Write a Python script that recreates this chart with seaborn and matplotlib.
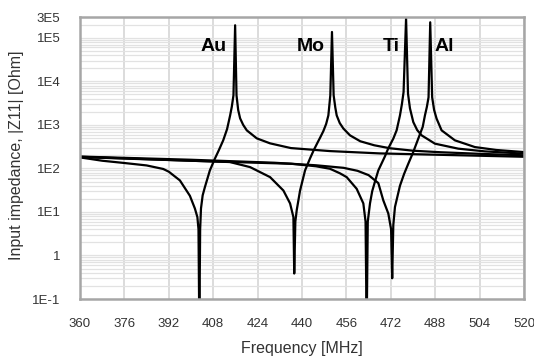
import numpy as np
import pandas as pd
import matplotlib
matplotlib.use("Agg")
import matplotlib.pyplot as plt
import seaborn as sns
from matplotlib.ticker import FixedLocator, FixedFormatter, LogLocator, NullFormatter

sns.set_theme(style="white")
plt.rcParams["font.family"] = ["Liberation Sans", "DejaVu Sans"]

# ---- data (frequency in MHz, |Z11| in Ohm) ----
au_f = [360, 368, 376, 384, 390, 392, 396, 399.6, 401.4, 402.3, 402.7, 403.0, 403.3, 403.6,
        404.2, 405.0, 406.8, 408.6, 410.0, 411.6, 413.0, 414.1, 414.7, 415.3, 415.9, 416.4,
        417.0, 417.7, 418.8, 420.1, 423.7, 428.5, 436, 450, 468, 490, 520]
au_z = [179, 150, 133, 117, 97, 84, 53, 23.5, 12, 7.6, 4, 0.02, 4, 12,
        24, 37, 90, 167, 259, 440, 800, 1650, 2600, 4770, 1.94e5, 4770,
        2200, 1410, 1000, 748, 490, 376, 293, 250, 221, 205, 185]

mo_f = [360, 380, 400, 414, 421.3, 428.5, 433.3, 435.7, 436.9, 437.2, 437.6, 438.1, 439.3,
        441.1, 442.9, 444.2, 445.5, 446.6, 447.7, 448.7, 449.5, 450.2, 450.8, 451.4, 452.0,
        452.5, 453.6, 454.9, 457.3, 461, 466, 471.7, 480, 490, 505, 520]
mo_z = [182, 165, 150, 140, 107, 63, 31, 15.7, 7.6, 0.385, 6, 11, 31,
        90, 170, 260, 380, 520, 720, 1050, 1650, 4770, 1.36e5, 4770, 2500,
        1650, 1100, 825, 574, 420, 340, 290, 255, 235, 215, 200]

ti_f = [360, 400, 420, 436, 445, 450.1, 453.7, 456.1, 459.7, 462.1, 462.9, 463.3, 463.7,
        464.5, 465.3, 466.3, 467.5, 469.9, 471.1, 472.9, 474.1, 475.3, 476.0, 476.6, 477.5,
        478.2, 478.9, 480.1, 481.5, 483.1, 487.9, 496.3, 505.9, 520]
ti_z = [185, 150, 137, 128, 112, 98, 77, 63, 34, 15.7, 6, 0.02, 6,
        15.7, 30, 50, 90, 190, 290, 483, 750, 1650, 3000, 5680, 2.8e5,
        5200, 2400, 1160, 760, 574, 370, 284, 246, 218]

al_f = [360, 400, 430, 445, 455, 460, 464, 467.5, 469.3, 471.1, 472.1, 472.5, 472.9, 473.5,
        475.3, 476.8, 478.3, 480.0, 481.9, 483.5, 484.3, 485.0, 485.6, 486.2, 486.9, 487.6,
        488.5, 490.3, 495.1, 502.3, 510, 520]
al_z = [187, 158, 135, 118, 103, 88, 70, 46, 18.4, 9.2, 4, 0.30, 5, 13,
        40, 75, 128, 230, 483, 900, 1650, 2600, 4300, 2.27e5, 4300, 2200,
        1390, 748, 441, 309, 265, 237]

metals = ["Au", "Mo", "Ti", "Al"]
label_x = [408.3, 443.2, 472.0, 491.2]
label_y = [6.4e4, 6.4e4, 6.4e4, 6.4e4]

x_ticks = [360, 376, 392, 408, 424, 440, 456, 472, 488, 504, 520]
y_ticks = [0.1, 1, 10, 100, 1e3, 1e4, 1e5, 3e5]
y_tick_labels = ["1E-1", "1", "1E1", "1E2", "1E3", "1E4", "1E5", "3E5"]

df = pd.concat([
    pd.DataFrame({"freq": f, "z": z, "metal": m})
    for m, f, z in zip(metals, [au_f, mo_f, ti_f, al_f], [au_z, mo_z, ti_z, al_z])
], ignore_index=True)

fig = plt.figure(figsize=(5.34, 3.59), dpi=100)
ax = fig.add_axes([0.1498, 0.1671, 0.8315, 0.7855])

sns.lineplot(data=df, x="freq", y="z", hue="metal", estimator=None, sort=False,
             palette=["black"] * 4, legend=False, lw=1.6, ax=ax)

ax.set_yscale("log")
ax.set_xlim(360, 520)
ax.set_ylim(0.1, 3e5)

ax.xaxis.set_major_locator(FixedLocator(x_ticks))
ax.xaxis.set_minor_locator(FixedLocator([t + 8 for t in x_ticks[:-1]]))
ax.yaxis.set_major_locator(FixedLocator(y_ticks))
ax.yaxis.set_major_formatter(FixedFormatter(y_tick_labels))
ax.yaxis.set_minor_locator(LogLocator(base=10, subs=np.arange(2, 10), numticks=30))
ax.yaxis.set_minor_formatter(NullFormatter())

ax.grid(which="major", axis="x", color="#d9d9d9", lw=1.3)
ax.grid(which="both", axis="y", color="#e2e2e2", lw=0.9)
ax.set_axisbelow(True)

ax.tick_params(which="major", direction="out", length=11, width=1.2, color="#9a9a9a",
               labelsize=9.5, labelcolor="#333333", pad=3)
ax.tick_params(axis="x", which="minor", direction="out", length=6, width=1.2, color="#9a9a9a")
ax.tick_params(axis="y", which="minor", length=0)

for s in ax.spines.values():
    s.set_color("#a6a6a6")
    s.set_linewidth(1.8)

ax.set_xlabel("Frequency [MHz]", fontsize=11.5, color="#333333")
ax.set_ylabel("Input impedance, |Z11| [Ohm]", fontsize=11.5, color="#333333")
ax.xaxis.set_label_coords(0.5, -0.15)
ax.yaxis.set_label_coords(-0.125, 0.51)

for name, lx, ly in zip(metals, label_x, label_y):
    ax.text(lx, ly, name, ha="center", va="center", fontsize=14, fontweight="bold", color="black")

fig.savefig("out.png", dpi=100)
